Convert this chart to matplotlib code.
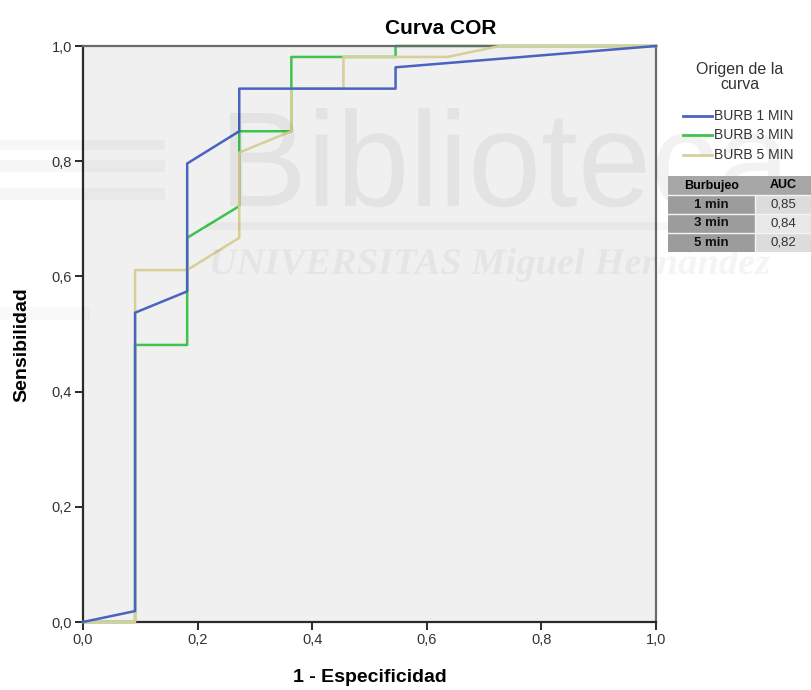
import matplotlib
matplotlib.use("Agg")
import matplotlib.pyplot as plt
from matplotlib.patches import Rectangle, PathPatch
from matplotlib.lines import Line2D
from matplotlib.textpath import TextPath
from matplotlib.font_manager import FontProperties
from matplotlib.transforms import Affine2D, IdentityTransform

# ---- data ----
fpr_1 = [0.0, 0.0909, 0.0909, 0.1818, 0.1818, 0.2727, 0.2727, 0.5455, 0.5455, 1.0]
tpr_1 = [0.0, 0.019, 0.537, 0.574, 0.796, 0.852, 0.926, 0.926, 0.963, 1.0]

fpr_3 = [0.0, 0.0909, 0.0909, 0.1818, 0.1818, 0.2727, 0.2727, 0.3636, 0.3636, 0.5455, 0.5455, 1.0]
tpr_3 = [0.0, 0.0, 0.481, 0.481, 0.667, 0.722, 0.852, 0.852, 0.981, 0.981, 1.0, 1.0]

fpr_5 = [0.0, 0.0909, 0.0909, 0.1818, 0.2727, 0.2727, 0.3636, 0.3636, 0.4545, 0.4545, 0.6364, 0.7273, 1.0]
tpr_5 = [0.0, 0.0, 0.611, 0.611, 0.667, 0.815, 0.852, 0.926, 0.926, 0.981, 0.981, 1.0, 1.0]

series_names = ["BURB 1 MIN", "BURB 3 MIN", "BURB 5 MIN"]
series_colors = ["#4a62c0", "#3ec44e", "#d6cf96"]

ticks = [0.0, 0.2, 0.4, 0.6, 0.8, 1.0]
tick_labels = ["0,0", "0,2", "0,4", "0,6", "0,8", "1,0"]

table_header = ["Burbujeo", "AUC"]
table_rows = ["1 min", "3 min", "5 min"]
table_auc = ["0,85", "0,84", "0,82"]

W, H = 811, 690
fig = plt.figure(figsize=(W / 100, H / 100), dpi=100)
fig.patch.set_facecolor("white")

def fx(px):
    return px / W

def fy(py):
    return 1 - py / H

ax = fig.add_axes([fx(83), fy(622), fx(656) - fx(83), fy(46) - fy(622)])
ax.set_facecolor("#f0f0f0")
ax.set_xlim(0, 1)
ax.set_ylim(0, 1)

# ---- faint watermark (drawn in pixel coordinates, stretched to fit) ----
def stretched_text(s, x0, x1, ytop, ybase, family, weight="normal", style="normal", alpha=0.06):
    tp = TextPath((0, 0), s, size=1, prop=FontProperties(family=family, weight=weight, style=style))
    ext = tp.get_extents()
    sx = (x1 - x0) / ext.width
    sy = (ybase - ytop) / (ext.y1 - 0)
    tr = Affine2D().translate(-ext.x0, 0).scale(sx, sy).translate(x0, H - ybase)
    path = tr.transform_path(tp)
    p = PathPatch(path, facecolor="black", edgecolor="none", alpha=alpha,
                  transform=IdentityTransform(), zorder=0.5)
    fig.add_artist(p)

def faint_rect(xa, ya, xb, yb, alpha=0.045):
    fig.add_artist(Rectangle((xa, H - yb), xb - xa, yb - ya, facecolor="black",
                             edgecolor="none", alpha=alpha, transform=IdentityTransform(),
                             zorder=0.5))

stretched_text("Biblioteca", 230, 790, 108, 206, "Liberation Sans", alpha=0.05)
stretched_text("UNIVERSITAS Miguel Hernández", 212, 770, 248, 274, "Liberation Serif",
               weight="bold", style="italic", alpha=0.045)
faint_rect(205, 222, 790, 230, alpha=0.03)
for (ya, yb) in [(140, 150), (160, 172), (188, 200)]:
    faint_rect(0, ya, 165, yb, alpha=0.03)
faint_rect(0, 307, 90, 320, alpha=0.025)

ax.plot(fpr_1, tpr_1, color=series_colors[0], lw=1.8, zorder=3, clip_on=False)
ax.plot(fpr_3, tpr_3, color=series_colors[1], lw=1.8, zorder=2.5, clip_on=False)
ax.plot(fpr_5, tpr_5, color=series_colors[2], lw=1.8, zorder=2.7, clip_on=False)

for s in ["left", "bottom"]:
    ax.spines[s].set_color("#2a2a2a")
    ax.spines[s].set_linewidth(1.6)
for s in ["top", "right"]:
    ax.spines[s].set_color("#6a6a6a")
    ax.spines[s].set_linewidth(1.6)

tick_font = dict(family="Liberation Sans", size=10.5)
ax.set_xticks(ticks)
ax.set_yticks(ticks)
ax.set_xticklabels(tick_labels, fontdict=tick_font, color="#333333")
ax.set_yticklabels(tick_labels, fontdict=tick_font, color="#333333")
ax.tick_params(direction="out", length=6, width=1.4, color="#2a2a2a", pad=2)

ax.set_xlabel("1 - Especificidad", family="Liberation Sans", fontsize=14,
              fontweight="bold", va="center")
ax.xaxis.set_label_coords((370 - 83) / (656 - 83), -(678 - 622) / (622 - 46))
ax.set_ylabel("Sensibilidad", family="Liberation Sans", fontsize=14,
              fontweight="bold", va="center")
ax.yaxis.set_label_coords(-(83 - 22) / (656 - 83), (622 - 345) / (622 - 46))

fig.text(fx(441), fy(28), "Curva COR", family="Liberation Sans", fontsize=15,
         fontweight="bold", ha="center", va="center")

# ---- legend ----
fig.text(fx(740), fy(77), "Origen de la\ncurva", family="Liberation Sans", fontsize=11.5,
         ha="center", va="center", color="#333333", linespacing=0.95)
leg_y = [116, 135, 155]
for name, col, y in zip(series_names, series_colors, leg_y):
    fig.add_artist(Line2D([fx(683), fx(712)], [fy(y), fy(y)], color=col, lw=2))
    fig.text(fx(714), fy(y), name, family="Liberation Sans", fontsize=10,
             ha="left", va="center", color="#333333")

# ---- AUC table ----
x0, xm, x1 = 668, 755, 811
rows_y = [176, 195, 214, 233, 252]

def rect(xa, ya, xb, yb, col):
    fig.add_artist(Rectangle((fx(xa), fy(yb)), fx(xb) - fx(xa), fy(ya) - fy(yb),
                             facecolor=col, edgecolor="none", transform=fig.transFigure))

rect(x0, rows_y[0], x1, rows_y[1], "#a6a6a6")
fig.text(fx((x0 + xm) / 2), fy((rows_y[0] + rows_y[1]) / 2), table_header[0],
         family="Liberation Sans", fontsize=9, fontweight="bold", ha="center", va="center")
fig.text(fx((xm + x1) / 2), fy((rows_y[0] + rows_y[1]) / 2), table_header[1],
         family="Liberation Sans", fontsize=9, fontweight="bold", ha="center", va="center")
for i, (lab, auc) in enumerate(zip(table_rows, table_auc)):
    ya, yb = rows_y[i + 1], rows_y[i + 2]
    rect(x0, ya, xm, yb, "#9c9c9c")
    rect(xm, ya, x1, yb, "#dcdcdc" if i != 1 else "#e8e8e8")
    fig.add_artist(Line2D([fx(x0), fx(x1)], [fy(ya), fy(ya)], color="#f4f4f4", lw=1))
    fig.text(fx((x0 + xm) / 2), fy((ya + yb) / 2), lab, family="Liberation Sans",
             fontsize=9.5, fontweight="bold", ha="center", va="center", color="#111111")
    fig.text(fx((xm + x1) / 2), fy((ya + yb) / 2), auc, family="Liberation Sans",
             fontsize=9.5, ha="center", va="center", color="#333333")
fig.add_artist(Line2D([fx(xm), fx(xm)], [fy(rows_y[1]), fy(rows_y[4])], color="#f4f4f4", lw=1))

fig.savefig("out.png", dpi=100)
